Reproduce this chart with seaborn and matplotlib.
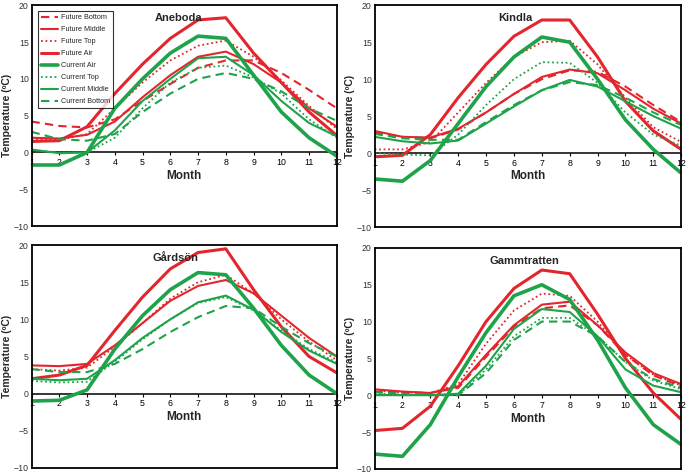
import numpy as np
import pandas as pd
import seaborn as sns
import matplotlib
matplotlib.use('Agg')
import matplotlib.pyplot as plt

months = list(range(1, 13))

# Aneboda
ane_future_bottom = [4.2, 3.6, 3.4, 4.5, 7.0, 9.3, 11.5, 12.5, 12.5, 10.8, 8.5, 6.0]
ane_future_middle = [2.0, 1.9, 2.4, 4.2, 7.5, 10.5, 13.0, 13.7, 12.0, 9.5, 6.0, 3.5]
ane_future_top = [1.8, 1.7, 2.5, 6.0, 9.5, 12.5, 14.5, 15.2, 13.0, 9.8, 6.3, 3.2]
ane_future_air = [1.5, 1.6, 3.5, 8.0, 12.0, 15.5, 18.0, 18.3, 13.5, 9.5, 5.5, 2.3]
ane_current_air = [-1.7, -1.7, 0.0, 6.0, 10.0, 13.5, 15.8, 15.5, 10.5, 5.5, 2.0, -0.5]
ane_current_top = [0.3, 0.0, 0.0, 2.0, 6.0, 9.5, 11.5, 11.8, 10.2, 8.0, 4.5, 2.0]
ane_current_middle = [0.4, -0.1, 0.0, 3.0, 7.0, 10.0, 12.8, 13.0, 10.5, 7.0, 4.0, 2.2]
ane_current_bottom = [2.8, 1.8, 1.6, 2.5, 5.5, 8.0, 10.0, 10.8, 10.0, 8.3, 6.0, 4.3]

# Kindla
kin_future_bottom = [2.8, 2.2, 2.0, 3.2, 5.5, 8.0, 10.0, 11.2, 11.0, 9.0, 6.5, 4.2]
kin_future_middle = [3.0, 2.2, 2.1, 3.3, 5.5, 8.0, 10.3, 11.3, 10.8, 8.5, 6.0, 4.0]
kin_future_top = [0.5, 0.5, 1.5, 5.5, 9.5, 13.0, 15.0, 15.2, 12.0, 7.5, 3.5, 1.5]
kin_future_air = [-0.5, -0.3, 2.5, 7.5, 12.0, 15.8, 18.0, 18.0, 13.0, 7.0, 3.0, 0.5]
kin_current_air = [-3.5, -3.8, -1.0, 4.0, 9.0, 13.0, 15.7, 15.0, 10.0, 4.5, 0.5, -2.7]
kin_current_top = [0.0, -0.2, -0.3, 2.5, 6.5, 10.0, 12.3, 12.2, 9.5, 5.5, 2.5, 1.0]
kin_current_middle = [2.2, 1.6, 1.3, 1.7, 4.0, 6.3, 8.5, 9.9, 9.0, 7.0, 5.0, 3.3]
kin_current_bottom = [2.6, 2.0, 1.8, 1.8, 4.2, 6.5, 8.5, 9.6, 9.2, 7.5, 5.5, 3.8]

# Gärdsön (no future bottom curve shown)
gar_future_bottom = [np.nan] * 12
gar_future_middle = [3.8, 3.7, 4.0, 6.5, 9.5, 12.5, 14.5, 15.3, 13.5, 10.5, 7.5, 5.0]
gar_future_top = [3.3, 3.1, 3.5, 6.3, 9.5, 12.8, 15.0, 16.0, 13.5, 10.0, 7.0, 4.5]
gar_future_air = [2.0, 2.5, 3.8, 8.5, 13.0, 16.8, 19.0, 19.5, 14.0, 9.0, 5.0, 2.8]
gar_current_air = [-1.0, -0.9, 0.5, 6.0, 10.5, 14.0, 16.3, 16.0, 11.5, 6.5, 2.5, 0.0]
gar_current_top = [1.7, 1.5, 1.6, 4.3, 7.3, 10.0, 12.2, 13.0, 11.2, 8.5, 6.0, 4.2]
gar_current_middle = [2.0, 1.8, 2.0, 4.5, 7.5, 10.0, 12.3, 13.2, 11.3, 8.3, 5.8, 4.0]
gar_current_bottom = [3.3, 2.9, 2.9, 4.0, 6.0, 8.3, 10.3, 11.8, 11.5, 9.0, 6.8, 5.0]

# Gammtratten
gam_future_bottom = [0.5, 0.4, 0.3, 1.0, 5.2, 9.3, 11.8, 12.2, 9.5, 5.5, 2.7, 1.2]
gam_future_middle = [0.8, 0.5, 0.3, 1.2, 5.5, 9.5, 12.3, 12.7, 9.5, 5.8, 3.0, 1.5]
gam_future_top = [0.6, 0.4, 0.3, 1.5, 7.0, 11.5, 13.8, 13.5, 10.0, 5.5, 2.8, 1.3]
gam_future_air = [-4.8, -4.5, -1.5, 4.0, 10.0, 14.5, 17.0, 16.5, 11.0, 5.0, 0.3, -3.3]
gam_current_air = [-8.0, -8.3, -4.0, 2.5, 8.5, 13.5, 15.0, 13.0, 7.5, 1.0, -4.0, -6.7]
gam_current_top = [0.2, 0.1, 0.0, 0.0, 3.5, 8.0, 10.5, 10.5, 8.0, 4.5, 2.0, 0.8]
gam_current_middle = [0.0, 0.0, 0.0, 0.2, 4.0, 9.0, 11.7, 11.3, 8.0, 3.5, 1.3, 0.4]
gam_current_bottom = [0.4, 0.2, 0.0, 0.0, 3.0, 7.5, 10.0, 10.0, 8.0, 4.5, 2.2, 1.0]

series_names = ['Future Bottom', 'Future Middle', 'Future Top', 'Future Air',
                'Current Air', 'Current Top', 'Current Middle', 'Current Bottom']

sites = {
    'Aneboda': [ane_future_bottom, ane_future_middle, ane_future_top, ane_future_air,
                ane_current_air, ane_current_top, ane_current_middle, ane_current_bottom],
    'Kindla': [kin_future_bottom, kin_future_middle, kin_future_top, kin_future_air,
               kin_current_air, kin_current_top, kin_current_middle, kin_current_bottom],
    'Gårdsön': [gar_future_bottom, gar_future_middle, gar_future_top, gar_future_air,
                gar_current_air, gar_current_top, gar_current_middle, gar_current_bottom],
    'Gammtratten': [gam_future_bottom, gam_future_middle, gam_future_top, gam_future_air,
                    gam_current_air, gam_current_top, gam_current_middle, gam_current_bottom],
}

red = '#e3262d'
green = '#1fa34a'
styles = {
    'Future Bottom': dict(color=red, lw=1.5, dashes=(4, 2.5)),
    'Future Middle': dict(color=red, lw=1.5, dashes=''),
    'Future Top': dict(color=red, lw=1.3, dashes=(1, 1.5)),
    'Future Air': dict(color=red, lw=2.2, dashes=''),
    'Current Air': dict(color=green, lw=2.6, dashes=''),
    'Current Top': dict(color=green, lw=1.3, dashes=(1, 1.5)),
    'Current Middle': dict(color=green, lw=1.5, dashes=''),
    'Current Bottom': dict(color=green, lw=1.5, dashes=(4, 2.5)),
}

sns.set_style('white')
plt.rcParams['font.family'] = ['Liberation Sans', 'DejaVu Sans']

fig = plt.figure(figsize=(6.86, 4.75), dpi=100)
positions = [
    [0.046, 0.524, 0.445, 0.465],
    [0.546, 0.522, 0.447, 0.467],
    [0.046, 0.015, 0.445, 0.469],
    [0.546, 0.013, 0.447, 0.465],
]
title_x = [0.48, 0.46, 0.47, 0.49]

for k, (site, values) in enumerate(sites.items()):
    ax = fig.add_axes(positions[k])
    df = pd.DataFrame({'Month': months})
    for name, vals in zip(series_names, values):
        df[name] = vals
    long = df.melt(id_vars='Month', var_name='Series', value_name='Temp')
    for name in series_names:
        st = styles[name]
        d = long[long['Series'] == name]
        sns.lineplot(data=d, x='Month', y='Temp', ax=ax, color=st['color'],
                     linewidth=st['lw'], label=name)
        line = ax.lines[-1]
        if st['dashes']:
            line.set_dashes(st['dashes'])
    ax.set_xlim(1, 12)
    ax.set_ylim(-10, 20)
    ax.set_yticks([-10, -5, 0, 5, 10, 15, 20])
    ax.tick_params(axis='y', labelsize=6.3, length=0, pad=2, colors='#333333')
    ax.set_xticks([])
    ax.set_xlabel('')
    ax.set_ylabel('Temperature (ºC)', fontsize=7.5, fontweight='bold', labelpad=1)
    for sp in ax.spines.values():
        sp.set_color('black')
        sp.set_linewidth(1.3)
    ax.axhline(0, color='black', lw=1.1, zorder=1)
    sec = ax.secondary_xaxis(1 / 3)
    sec.spines['bottom'].set_visible(False)
    sec.set_xticks(months)
    sec.tick_params(labelsize=6.3, length=2, pad=2, direction='out', colors='black')
    sec.set_xlabel('Month', fontsize=8.5, fontweight='bold', labelpad=2)
    ax.text(title_x[k], 0.965, site, transform=ax.transAxes, ha='center', va='top',
            fontsize=8, fontweight='bold')
    if k == 0:
        leg = ax.legend(loc='upper left', fontsize=5.2, frameon=True, handlelength=2.4,
                        borderpad=0.45, labelspacing=0.68, handletextpad=0.4,
                        bbox_to_anchor=(0.008, 0.99))
        leg.get_frame().set_edgecolor('black')
        leg.get_frame().set_linewidth(0.8)
        leg.get_frame().set_boxstyle('square', pad=0)
    else:
        ax.get_legend().remove()

fig.savefig('out.png', dpi=100)
